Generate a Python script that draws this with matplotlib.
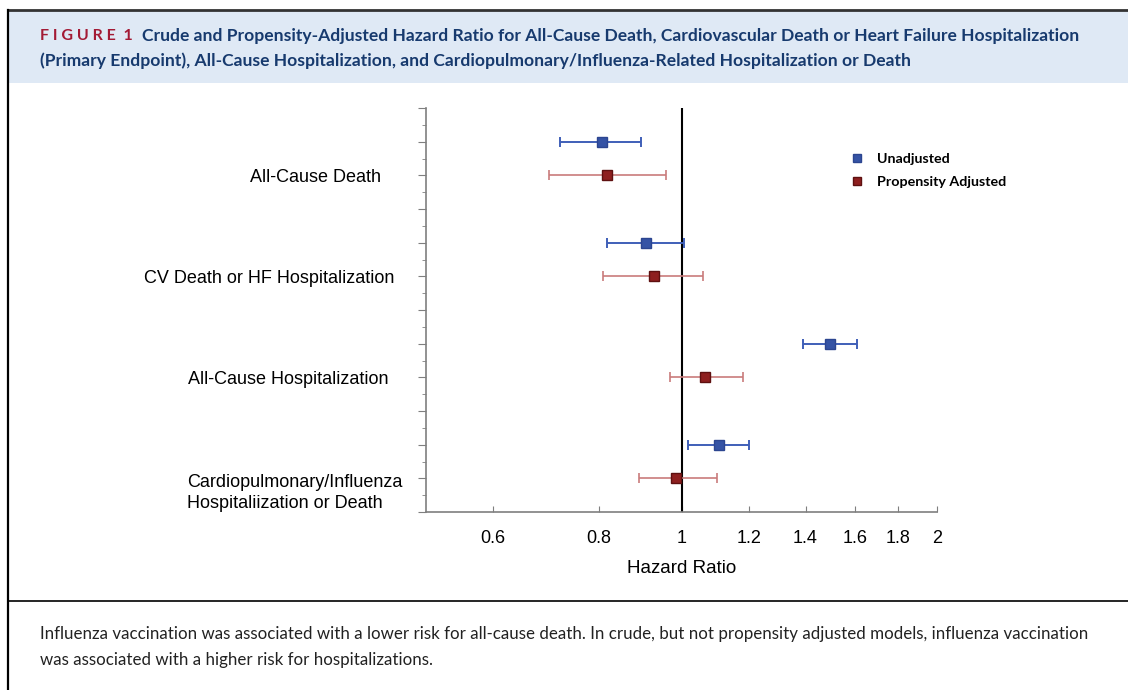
import matplotlib
matplotlib.use("Agg")
import matplotlib.pyplot as plt
from matplotlib.lines import Line2D
from matplotlib.patches import Rectangle
from matplotlib.ticker import FixedLocator, NullFormatter

# Data (hazard ratio with 95% CI)
outcomes = ["All-Cause Death",
            "CV Death or HF Hospitalization",
            "All-Cause Hospitalization",
            "Cardiopulmonary/Influenza\nHospitaliization or Death"]
unadj_hr = [0.807, 0.907, 1.495, 1.106]
unadj_lo = [0.720, 0.818, 1.389, 1.019]
unadj_hi = [0.897, 1.008, 1.609, 1.200]
adj_hr = [0.816, 0.927, 1.067, 0.986]
adj_lo = [0.699, 0.809, 0.968, 0.890]
adj_hi = [0.960, 1.059, 1.180, 1.100]
unadj_rows = [2, 8, 14, 20]
adj_rows = [4, 10, 16, 22]
x_ticks = [0.6, 0.8, 1, 1.2, 1.4, 1.6, 1.8, 2]
x_tick_labels = ["0.6", "0.8", "1", "1.2", "1.4", "1.6", "1.8", "2"]

# layout: left edge of each category label (axes fraction)
label_x = [-0.344, -0.552, -0.466, -0.468]

title_main = ("Crude and Propensity-Adjusted Hazard Ratio for All-Cause Death, Cardiovascular Death or Heart Failure Hospitalization\n"
              "(Primary Endpoint), All-Cause Hospitalization, and Cardiopulmonary/Influenza-Related Hospitalization or Death")
caption = ("Influenza vaccination was associated with a lower risk for all-cause death. In crude, but not propensity adjusted models, influenza vaccination\n"
           "was associated with a higher risk for hospitalizations.")

BLUE = "#3f5fb8"
BLUE_DARK = "#3553a5"
RED_LINE = "#c97b7b"
RED_DARK = "#8e1f1f"
NAVY = "#173a6e"
FIG_RED = "#a31a35"
AXIS_GRAY = "#7f7f7f"

W, H = 1128, 690
fig = plt.figure(figsize=(W / 100, H / 100), dpi=100)
fig.patch.set_facecolor("white")

# frame, title band and caption divider
fig.add_artist(Rectangle((8 / W, 1 - 83 / H), 1 - 8 / W, 73 / H, transform=fig.transFigure,
                         facecolor="#dfe9f5", edgecolor="none", zorder=0))
fig.add_artist(Line2D([8 / W, 1], [1 - 10 / H, 1 - 10 / H], transform=fig.transFigure, color="#333333", lw=2))
fig.add_artist(Line2D([8 / W, 8 / W], [0, 1 - 10 / H], transform=fig.transFigure, color="black", lw=1.6))
fig.add_artist(Line2D([8 / W, 1], [1 - 601 / H, 1 - 601 / H], transform=fig.transFigure, color="black", lw=1.2))

title_font = {"family": ["Lato", "DejaVu Sans"], "fontweight": "bold", "fontsize": 12.6}
t1 = fig.text(40 / W, 1 - 36 / H, "F I G U R E  1", color=FIG_RED, va="center", ha="left",
              **{**title_font, "fontsize": 11.5})
fig.canvas.draw()
x_end = t1.get_window_extent().x1
fig.text((x_end + 9) / W, 1 - 36 / H, title_main.split("\n")[0], color=NAVY, va="center", ha="left", **title_font)
fig.text(40 / W, 1 - 61 / H, title_main.split("\n")[1], color=NAVY, va="center", ha="left", **title_font)

fig.text(40 / W, 1 - 647 / H, caption, color="#222222", fontsize=12.2, family=["Lato", "DejaVu Sans"],
         va="center", ha="left", linespacing=1.75)

# forest plot
ax = fig.add_axes([426 / W, 1 - 512 / H, 511 / W, 404 / H])
ax.set_xscale("log")
ax.set_xlim(0.5, 2)
ax.set_ylim(24, 0)

ax.errorbar(unadj_hr, unadj_rows,
            xerr=[[h - l for h, l in zip(unadj_hr, unadj_lo)], [u - h for h, u in zip(unadj_hr, unadj_hi)]],
            fmt="s", color=BLUE, ecolor=BLUE, elinewidth=1.4, capsize=3.5, capthick=1.4,
            markersize=7.8, markerfacecolor=BLUE_DARK, markeredgecolor="#2c4590", zorder=3)
ax.errorbar(adj_hr, adj_rows,
            xerr=[[h - l for h, l in zip(adj_hr, adj_lo)], [u - h for h, u in zip(adj_hr, adj_hi)]],
            fmt="s", color=RED_LINE, ecolor=RED_LINE, elinewidth=1.2, capsize=3.5, capthick=1.2,
            markersize=7.8, markerfacecolor=RED_DARK, markeredgecolor="#5e1010", zorder=3)

ax.axvline(1, color="black", lw=1.5, zorder=2)

for s in ["top", "right"]:
    ax.spines[s].set_visible(False)
for s in ["left", "bottom"]:
    ax.spines[s].set_color(AXIS_GRAY)
    ax.spines[s].set_linewidth(1.2)

ax.xaxis.set_major_locator(FixedLocator(x_ticks))
ax.xaxis.set_minor_locator(FixedLocator([]))
ax.set_xticklabels(x_tick_labels, family=["Liberation Sans", "DejaVu Sans"], fontsize=13)
ax.tick_params(axis="x", direction="in", length=4, color=AXIS_GRAY, pad=13)
ax.set_xlabel("Hazard Ratio", family=["Liberation Sans", "DejaVu Sans"], fontsize=13.5, labelpad=9)

ax.yaxis.set_major_locator(FixedLocator(range(0, 25, 2)))
ax.yaxis.set_minor_locator(FixedLocator(range(1, 25, 2)))
ax.yaxis.set_major_formatter(NullFormatter())
ax.tick_params(axis="y", which="major", direction="out", length=6, color=AXIS_GRAY)
ax.tick_params(axis="y", which="minor", direction="out", length=3, color=AXIS_GRAY)

for name, row, lx in zip(outcomes, adj_rows, label_x):
    ax.text(lx, row + (0.85 if "\n" in name else 0.1), name, transform=ax.get_yaxis_transform(),
            ha="left", va="center", fontsize=13, family=["Liberation Sans", "DejaVu Sans"], linespacing=1.3)

handles = [Line2D([], [], ls="none", marker="s", markersize=6, markerfacecolor=BLUE_DARK, markeredgecolor="#2c4590"),
           Line2D([], [], ls="none", marker="s", markersize=6, markerfacecolor=RED_DARK, markeredgecolor="#5e1010")]
ax.legend(handles, ["Unadjusted", "Propensity Adjusted"], loc="upper left", bbox_to_anchor=(0.81, 0.92),
          frameon=False, handlelength=0.6, handletextpad=1.1, labelspacing=0.75,
          prop={"family": ["Lato", "DejaVu Sans"], "weight": "bold", "size": 10.3})

fig.savefig("out.png", dpi=100)
